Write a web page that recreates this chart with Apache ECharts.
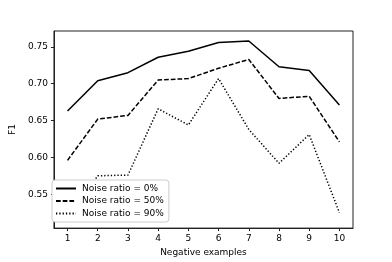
<!DOCTYPE html>
<html>
<head>
<meta charset="utf-8">
<script src="https://cdn.jsdelivr.net/npm/echarts@6/dist/echarts.min.js"></script>
<style>html,body{margin:0;padding:0;background:#fff;}#c{width:392px;height:262px;}</style>
</head>
<body>
<div id="c"></div>
<script>
const negExamples = [1, 2, 3, 4, 5, 6, 7, 8, 9, 10];
const noise0 = [0.663, 0.704, 0.715, 0.736, 0.744, 0.756, 0.758, 0.723, 0.718, 0.671];
const noise50 = [0.596, 0.652, 0.657, 0.705, 0.707, 0.721, 0.733, 0.680, 0.683, 0.621];
const noise90 = [0.516, 0.575, 0.576, 0.666, 0.644, 0.707, 0.638, 0.592, 0.631, 0.525];
const yTicks = [0.55, 0.60, 0.65, 0.70, 0.75];
const seriesNames = ['Noise ratio = 0%', 'Noise ratio = 50%', 'Noise ratio = 90%'];

const FONT = 'DejaVu Sans';
const chart = echarts.init(document.getElementById('c'), null, {renderer: 'canvas'});
const pair = arr => negExamples.map((x, i) => [x, arr[i]]);
const mk = (name, arr, type) => ({
  name: name, type: 'line', data: pair(arr), symbol: 'none', z: 2,
  lineStyle: {color: '#000', width: 1.5, type: type},
  itemStyle: {color: '#000'}
});
chart.setOption({
  animation: false,
  grid: {left: 49, right: 39, top: 31, bottom: 33, show: true, borderColor: '#222', borderWidth: 1, backgroundColor: 'transparent'},
  xAxis: {
    type: 'value', min: 0.55, max: 10.45,
    name: 'Negative examples', nameLocation: 'middle', nameGap: 17,
    nameTextStyle: {fontFamily: FONT, fontSize: 9, color: '#000'},
    axisLine: {show: true, lineStyle: {color: '#222', width: 1}},
    axisTick: {show: true, length: 3, customValues: negExamples, lineStyle: {color: '#222'}},
    axisLabel: {customValues: negExamples, fontFamily: FONT, fontSize: 9, color: '#000', margin: 6},
    splitLine: {show: false}
  },
  yAxis: {
    type: 'value', min: 0.504, max: 0.7716,
    name: 'F1', nameLocation: 'middle', nameGap: 31, nameRotate: 90,
    nameTextStyle: {fontFamily: FONT, fontSize: 9, color: '#000'},
    axisLine: {show: true, lineStyle: {color: '#222', width: 1}},
    axisTick: {show: true, length: 3, customValues: yTicks, lineStyle: {color: '#222'}},
    axisLabel: {customValues: yTicks, fontFamily: FONT, fontSize: 9, color: '#000', margin: 6,
      formatter: v => v.toFixed(2)},
    splitLine: {show: false}
  },
  legend: {
    orient: 'vertical', left: 52, top: 180,
    data: seriesNames,
    itemWidth: 20, itemHeight: 8, itemGap: 3.5,
    padding: [4, 5, 4, 3],
    backgroundColor: '#fff', borderColor: '#ccc', borderWidth: 1, borderRadius: 3,
    itemStyle: {opacity: 0, color: 'transparent', borderWidth: 0},
    textStyle: {fontFamily: FONT, fontSize: 9, color: '#000', padding: [0, 0, 0, 1]},
    z: 10
  },
  series: [
    mk(seriesNames[0], noise0, 'solid'),
    mk(seriesNames[1], noise50, [4.7, 2]),
    mk(seriesNames[2], noise90, [1.3, 2])
  ]
});
</script>
</body>
</html>
